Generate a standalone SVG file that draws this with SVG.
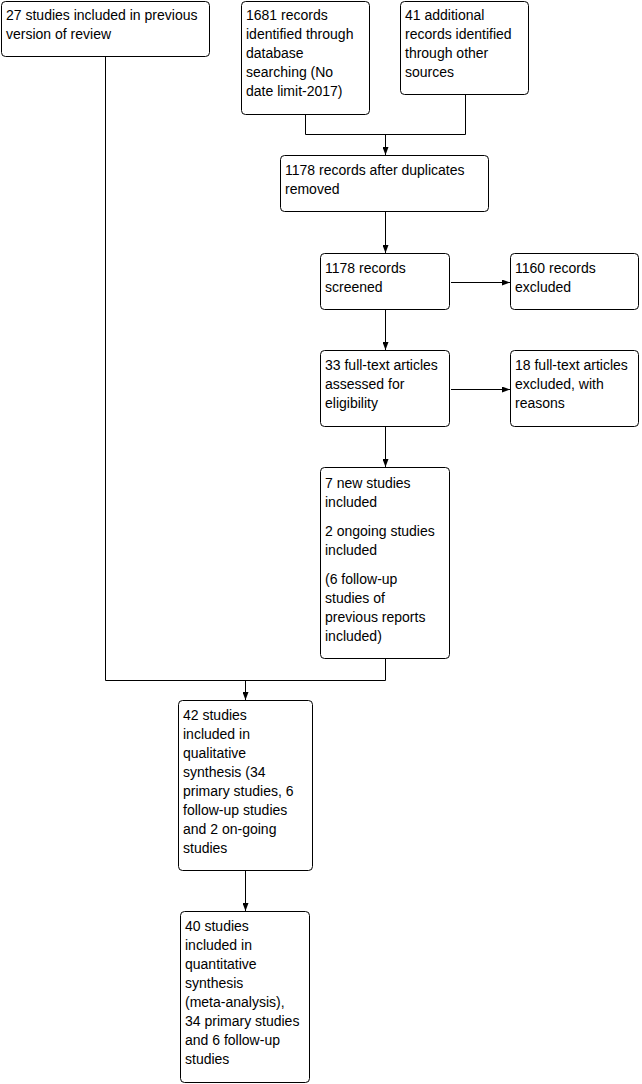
<svg xmlns="http://www.w3.org/2000/svg" width="642" height="1084" viewBox="0 0 642 1084">
<style>
.box{fill:#fff;stroke:#000;stroke-width:1}
.t{font-family:"Liberation Sans",Arial,sans-serif;font-size:14px;fill:#000}
.c{fill:none;stroke:#000;stroke-width:1}
</style>
<defs>
<marker id="ah" viewBox="0 0 8 6" refX="8" refY="3" markerWidth="8" markerHeight="6" markerUnits="userSpaceOnUse" orient="auto">
<path d="M0,0 L8,3 L0,6 z" fill="#000"/>
</marker>
</defs>
<rect width="642" height="1084" fill="#fff"/>
<g id="connectors">
<path class="c" d="M105.5,57 V680.5 H385.5 V659"/>
<path class="c" d="M245.5,680.5 V700" marker-end="url(#ah)"/>
<path class="c" d="M305.5,115 V134.5 H465.5 V95"/>
<path class="c" d="M385.5,134.5 V155" marker-end="url(#ah)"/>
<path class="c" d="M385.5,212 V253" marker-end="url(#ah)"/>
<path class="c" d="M451,282.5 H510" marker-end="url(#ah)"/>
<path class="c" d="M385.5,310 V350" marker-end="url(#ah)"/>
<path class="c" d="M451,389.5 H510" marker-end="url(#ah)"/>
<path class="c" d="M385.5,427 V467" marker-end="url(#ah)"/>
<path class="c" d="M245.5,871 V911" marker-end="url(#ah)"/>
</g>
<g id="n1"><rect class="box" x="1.5" y="1.5" width="208" height="55" rx="4"/>
<text class="t" x="6" y="20">27 studies included in previous</text><text class="t" x="6" y="39">version of review</text></g>
<g id="n2"><rect class="box" x="241.5" y="1.5" width="128" height="113" rx="4"/>
<text class="t" x="246" y="20">1681 records</text><text class="t" x="246" y="39">identified through</text><text class="t" x="246" y="58">database</text><text class="t" x="246" y="77">searching (No</text><text class="t" x="246" y="96">date limit-2017)</text></g>
<g id="n3"><rect class="box" x="400.5" y="1.5" width="128" height="93" rx="4"/>
<text class="t" x="405" y="20">41 additional</text><text class="t" x="405" y="39">records identified</text><text class="t" x="405" y="58">through other</text><text class="t" x="405" y="77">sources</text></g>
<g id="n4"><rect class="box" x="280.5" y="155.5" width="208" height="56" rx="4"/>
<text class="t" x="285" y="175">1178 records after duplicates</text><text class="t" x="285" y="194">removed</text></g>
<g id="n5"><rect class="box" x="320.5" y="253.5" width="129" height="56" rx="4"/>
<text class="t" x="325" y="273">1178 records</text><text class="t" x="325" y="292">screened</text></g>
<g id="n6"><rect class="box" x="510.5" y="253.5" width="128" height="56" rx="4"/>
<text class="t" x="515" y="273">1160 records</text><text class="t" x="515" y="292">excluded</text></g>
<g id="n7"><rect class="box" x="320.5" y="350.5" width="129" height="76" rx="4"/>
<text class="t" x="325" y="370">33 full-text articles</text><text class="t" x="325" y="389">assessed for</text><text class="t" x="325" y="408">eligibility</text></g>
<g id="n8"><rect class="box" x="510.5" y="350.5" width="128" height="76" rx="4"/>
<text class="t" x="515" y="370">18 full-text articles</text><text class="t" x="515" y="389">excluded, with</text><text class="t" x="515" y="408">reasons</text></g>
<g id="n9"><rect class="box" x="320.5" y="467.5" width="129" height="191" rx="4"/>
<text class="t" x="325" y="488">7 new studies</text><text class="t" x="325" y="507">included</text>
<text class="t" x="325" y="536">2 ongoing studies</text><text class="t" x="325" y="555">included</text>
<text class="t" x="325" y="584">(6 follow-up</text><text class="t" x="325" y="603">studies of</text><text class="t" x="325" y="622">previous reports</text><text class="t" x="325" y="641">included)</text></g>
<g id="n10"><rect class="box" x="178.5" y="700.5" width="134" height="170" rx="4"/>
<text class="t" x="183" y="720">42 studies</text><text class="t" x="183" y="739">included in</text><text class="t" x="183" y="758">qualitative</text><text class="t" x="183" y="777">synthesis (34</text><text class="t" x="183" y="796">primary studies, 6</text><text class="t" x="183" y="815">follow-up studies</text><text class="t" x="183" y="834">and 2 on-going</text><text class="t" x="183" y="853">studies</text></g>
<g id="n11"><rect class="box" x="180.5" y="911.5" width="129" height="171" rx="4"/>
<text class="t" x="185" y="931">40 studies</text><text class="t" x="185" y="950">included in</text><text class="t" x="185" y="969">quantitative</text><text class="t" x="185" y="988">synthesis</text><text class="t" x="185" y="1007">(meta-analysis),</text><text class="t" x="185" y="1026">34 primary studies</text><text class="t" x="185" y="1045">and 6 follow-up</text><text class="t" x="185" y="1064">studies</text></g>
</svg>
